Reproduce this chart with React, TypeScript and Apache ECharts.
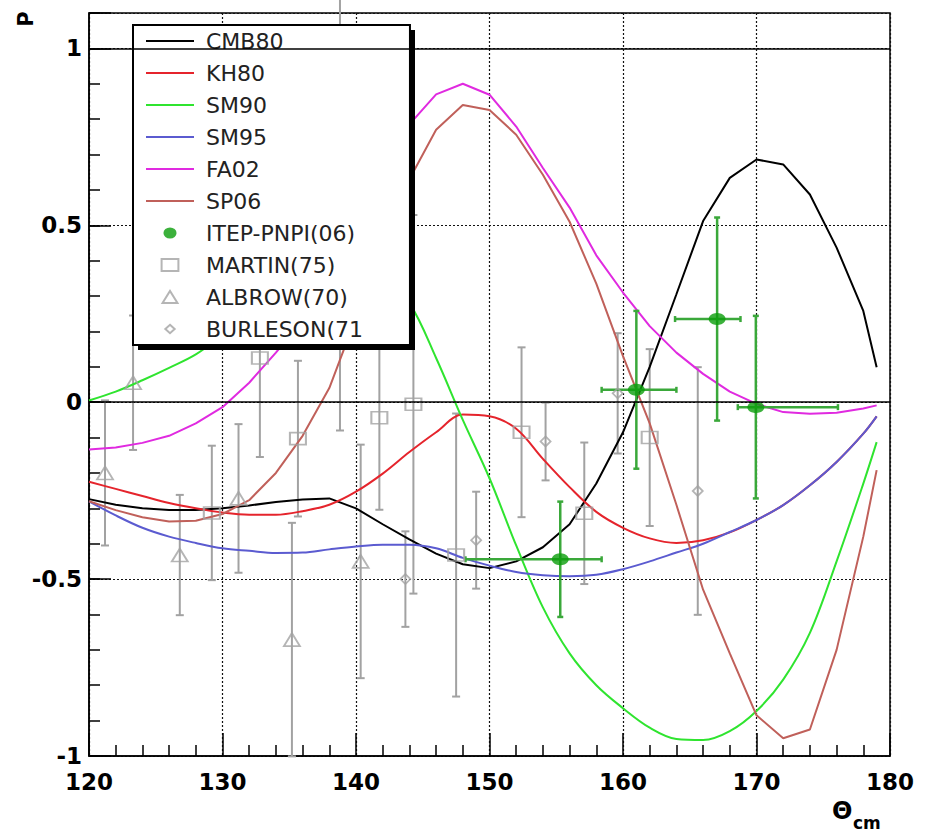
import React, { useEffect, useRef } from 'react';
import * as echarts from 'echarts';

// ---- data ----
const thetaGrid = [120, 122, 124, 126, 128, 130, 132, 134, 136, 138, 140, 142, 144, 146, 148, 150, 152, 154, 156, 158, 160, 162, 164, 166, 168, 170, 172, 174, 176, 178, 179];
const cmb80 = [-0.274, -0.29, -0.30, -0.305, -0.305, -0.30, -0.292, -0.282, -0.275, -0.272, -0.30, -0.345, -0.388, -0.428, -0.458, -0.469, -0.45, -0.41, -0.345, -0.23, -0.085, 0.10, 0.305, 0.512, 0.634, 0.686, 0.672, 0.587, 0.437, 0.258, 0.099];
const kh80 = [-0.225, -0.245, -0.265, -0.285, -0.30, -0.312, -0.318, -0.318, -0.308, -0.29, -0.253, -0.202, -0.141, -0.085, -0.035, -0.040, -0.075, -0.16, -0.24, -0.31, -0.355, -0.385, -0.398, -0.39, -0.368, -0.333, -0.291, -0.235, -0.169, -0.089, -0.04];
const sm90 = [0.005, 0.03, 0.062, 0.097, 0.135, 0.19, 0.25, 0.31, 0.36, 0.39, 0.39, 0.355, 0.28, 0.125, -0.05, -0.215, -0.405, -0.58, -0.71, -0.80, -0.865, -0.92, -0.952, -0.955, -0.93, -0.873, -0.784, -0.652, -0.45, -0.23, -0.113];
const sm95 = [-0.28, -0.32, -0.355, -0.38, -0.398, -0.413, -0.42, -0.426, -0.425, -0.416, -0.408, -0.403, -0.403, -0.413, -0.44, -0.462, -0.48, -0.489, -0.492, -0.488, -0.472, -0.45, -0.425, -0.40, -0.367, -0.333, -0.291, -0.235, -0.169, -0.089, -0.04];
const fa02 = [-0.134, -0.128, -0.115, -0.095, -0.06, -0.014, 0.055, 0.14, 0.23, 0.35, 0.49, 0.64, 0.785, 0.87, 0.9, 0.869, 0.779, 0.662, 0.55, 0.415, 0.31, 0.215, 0.14, 0.08, 0.03, -0.005, -0.028, -0.033, -0.03, -0.018, -0.009];
const sp06 = [-0.28, -0.305, -0.325, -0.337, -0.335, -0.316, -0.277, -0.20, -0.095, 0.04, 0.24, 0.45, 0.63, 0.77, 0.84, 0.826, 0.756, 0.643, 0.51, 0.335, 0.13, -0.06, -0.29, -0.53, -0.71, -0.885, -0.95, -0.925, -0.70, -0.38, -0.192];

const itepTheta = [155.3, 161.0, 167.05, 169.95];
const itepP = [-0.444, 0.035, 0.235, -0.014];
const itepPErr = [0.163, 0.223, 0.287, 0.258];
const itepThetaLo = [148.2, 158.4, 163.9, 168.6];
const itepThetaHi = [158.4, 164.0, 168.8, 176.1];

const martinTheta = [129.2, 132.8, 135.65, 141.75, 144.3, 147.5, 152.4, 157.1, 162.0];
const martinP = [-0.313, 0.125, -0.103, -0.044, -0.006, -0.432, -0.085, -0.314, -0.10];
const martinErr = [0.19, 0.28, 0.22, 0.26, 0.535, 0.40, 0.24, 0.20, 0.25];

const albrowTheta = [121.2, 123.3, 126.8, 131.2, 135.2, 138.8, 140.35];
const albrowP = [-0.20, 0.055, -0.432, -0.272, -0.671, 0.535, -0.45];
const albrowErr = [0.205, 0.19, 0.17, 0.21, 0.33, 0.615, 0.33];

const burlesonTheta = [143.7, 149.0, 154.2, 159.6, 165.6];
const burlesonP = [-0.50, -0.39, -0.111, 0.025, -0.251];
const burlesonErr = [0.135, 0.137, 0.11, 0.17, 0.35];

const curveNames = ['CMB80', 'KH80', 'SM90', 'SM95', 'FA02', 'SP06'];
const pointNames = ['ITEP-PNPI(06)', 'MARTIN(75)', 'ALBROW(70)', 'BURLESON(71'];

const FONT = 'DejaVu Sans';
const GRAY = '#a2a2a2';
const ITEP_GREEN = '#0b9e0b';
const ITEP_BAR = '#3aa83a';

// legend icon shapes (a fixed 20x15 frame keeps their size inside the legend slot)
const ICON_SQUARE = 'path://M0,0M20,15M1,1H19V14H1Z';
const ICON_TRIANGLE = 'path://M0,0M20,15M2,14L10,1L18,14Z';
const ICON_DIAMOND = 'path://M0,0M20,15M10,3L15,7.5L10,12L5,7.5Z';
const ICON_DOT = 'path://M0,0M20,15M3,7.5A7,6,0,1,0,17,7.5A7,6,0,1,0,3,7.5Z';

function curve(name: string, ys: number[], color: string, smooth: boolean, extra: any = {}) {
  return {
    type: 'line',
    name,
    data: thetaGrid.map((x, i) => [x, ys[i]]),
    symbol: 'none',
    showSymbol: false,
    smooth: smooth ? 0.35 : false,
    lineStyle: { color, width: 2 },
    itemStyle: { color },
    z: 2,
    ...extra,
  };
}

function grayBarSeries(xs: number[], ys: number[], es: number[]) {
  return {
    type: 'custom',
    coordinateSystem: 'cartesian2d',
    silent: true,
    z: 1,
    data: xs.map((x, i) => [x, ys[i], es[i]]),
    encode: { x: 0, y: 1 },
    renderItem: (_p: any, api: any) => {
      const x = api.value(0), y = api.value(1), e = api.value(2);
      const a = api.coord([x, y + e]);
      const b = api.coord([x, y - e]);
      const st = { stroke: GRAY, lineWidth: 2 };
      return {
        type: 'group',
        children: [
          { type: 'line', shape: { x1: a[0], y1: a[1], x2: b[0], y2: b[1] }, style: st },
          { type: 'line', shape: { x1: a[0] - 4, y1: a[1], x2: a[0] + 4, y2: a[1] }, style: st },
          { type: 'line', shape: { x1: b[0] - 4, y1: b[1], x2: b[0] + 4, y2: b[1] }, style: st },
        ],
      };
    },
  };
}

function openMarkers(name: string, xs: number[], ys: number[], symbol: string, size: any) {
  return {
    type: 'scatter',
    name,
    data: xs.map((x, i) => [x, ys[i]]),
    symbol,
    symbolSize: size,
    itemStyle: { color: 'rgba(255,255,255,0)', borderColor: GRAY, borderWidth: 1.8 },
    z: 3,
  };
}

export default function App() {
  const ref = useRef<HTMLDivElement>(null);
  useEffect(() => {
    const chart = echarts.init(ref.current!, null, { renderer: 'svg', width: 930, height: 833 });
    const axisLineStyle = { color: '#000', width: 1.5 };
    const pointIcons = [ICON_DOT, ICON_SQUARE, ICON_TRIANGLE, ICON_DIAMOND];
    const legendData = [
      ...curveNames.map((n) => ({ name: n, itemStyle: { opacity: 0 } })),
      ...pointNames.map((n, i) => ({ name: n, icon: pointIcons[i] })),
    ];
    const option: any = {
      animation: false,
      backgroundColor: '#fff',
      grid: {
        left: 89, top: 13, width: 801, height: 743,
        containLabel: false, outerBoundsMode: 'none',
        show: true, borderColor: '#000', borderWidth: 1.5, backgroundColor: 'transparent',
      },
      xAxis: {
        type: 'value', min: 120, max: 180, interval: 10,
        axisLine: { show: true, onZero: false, lineStyle: axisLineStyle },
        axisTick: { show: true, inside: true, length: 23, lineStyle: axisLineStyle },
        minorTick: { show: true, splitNumber: 5, length: 11, lineStyle: axisLineStyle },
        axisLabel: { show: true, margin: 14, fontFamily: FONT, fontWeight: 'bold', fontSize: 23, color: '#000' },
        splitLine: { show: true, lineStyle: { color: '#111', width: 1.2, type: [2, 2] } },
        minorSplitLine: { show: false },
      },
      yAxis: [
        {
          type: 'value', min: -1, max: 1.1, interval: 0.5,
          axisLine: { show: true, onZero: false, lineStyle: axisLineStyle },
          axisTick: { show: true, inside: true, length: 22, lineStyle: axisLineStyle },
          axisLabel: {
            show: true, margin: 7, fontFamily: FONT, fontWeight: 'bold', fontSize: 23, color: '#000',
            formatter: (v: number) => (v > 1.05 ? '' : String(v)),
          },
          splitLine: { show: true, lineStyle: { color: '#111', width: 1.2, type: [2, 2] } },
        },
        {
          type: 'value', min: -1, max: 1.1, interval: 0.1, position: 'left',
          axisLine: { show: false },
          axisTick: { show: true, inside: true, length: 11, lineStyle: axisLineStyle },
          axisLabel: { show: false },
          splitLine: { show: false },
        },
      ],
      legend: {
        orient: 'vertical', left: 133, top: 25, z: 5,
        backgroundColor: '#fff', borderColor: '#000', borderWidth: 2, borderRadius: 0,
        padding: [5, 47, 5, 12],
        itemWidth: 48, itemHeight: 14, itemGap: 10,
        symbolKeepAspect: true,
        textStyle: { fontFamily: FONT, fontSize: 22, color: '#222', lineHeight: 22, padding: [0, 0, 0, 7] },
        data: legendData,
        selectedMode: false,
      },
      graphic: [
        { type: 'rect', z: 4, silent: true, shape: { x: 138, y: 30, width: 277, height: 320 }, style: { fill: '#000' } },
        {
          type: 'text', x: 26, y: 19, rotation: Math.PI / 2,
          style: { text: 'P', fontFamily: FONT, fontWeight: 'bold', fontSize: 21, fill: '#000', textAlign: 'center', textVerticalAlign: 'middle', align: 'center', verticalAlign: 'middle' },
        },
        {
          type: 'text', x: 832, y: 811,
          style: { text: 'Θ', fontFamily: FONT, fontWeight: 'bold', fontSize: 24, fill: '#000', textAlign: 'left', textVerticalAlign: 'middle', align: 'left', verticalAlign: 'middle' },
        },
        {
          type: 'text', x: 853, y: 823,
          style: { text: 'cm', fontFamily: FONT, fontWeight: 'bold', fontSize: 17, fill: '#000', textAlign: 'left', textVerticalAlign: 'middle', align: 'left', verticalAlign: 'middle' },
        },
      ],
      series: [
        grayBarSeries(martinTheta, martinP, martinErr),
        grayBarSeries(albrowTheta, albrowP, albrowErr),
        grayBarSeries(burlesonTheta, burlesonP, burlesonErr),
        curve('CMB80', cmb80, '#000000', false, {
          markLine: {
            silent: true, symbol: 'none', label: { show: false },
            lineStyle: { color: '#000', width: 1.5, type: 'solid' },
            data: [{ yAxis: 0 }, { yAxis: 1 }],
          },
        }),
        curve('KH80', kh80, '#e5242c', true),
        curve('SM90', sm90, '#2fe42f', true),
        curve('SM95', sm95, '#5b5bd0', true),
        curve('FA02', fa02, '#e02ae0', false),
        curve('SP06', sp06, '#c0605a', false),
        openMarkers('MARTIN(75)', martinTheta, martinP, 'rect', [16, 12]),
        openMarkers('ALBROW(70)', albrowTheta, albrowP, 'triangle', [16, 13]),
        openMarkers('BURLESON(71', burlesonTheta, burlesonP, 'diamond', [10, 10]),
        {
          type: 'custom',
          coordinateSystem: 'cartesian2d',
          silent: true,
          z: 3,
          data: itepTheta.map((x, i) => [x, itepP[i], itepPErr[i], itepThetaLo[i], itepThetaHi[i]]),
          encode: { x: 0, y: 1 },
          renderItem: (_p: any, api: any) => {
            const x = api.value(0), y = api.value(1), e = api.value(2), xl = api.value(3), xh = api.value(4);
            const t = api.coord([x, y + e]);
            const b = api.coord([x, y - e]);
            const l = api.coord([xl, y]);
            const r = api.coord([xh, y]);
            const st = { stroke: ITEP_BAR, lineWidth: 2.5 };
            return {
              type: 'group',
              children: [
                { type: 'line', shape: { x1: t[0], y1: t[1], x2: b[0], y2: b[1] }, style: st },
                { type: 'line', shape: { x1: l[0], y1: l[1], x2: r[0], y2: r[1] }, style: st },
                { type: 'line', shape: { x1: t[0] - 3, y1: t[1], x2: t[0] + 3, y2: t[1] }, style: st },
                { type: 'line', shape: { x1: b[0] - 3, y1: b[1], x2: b[0] + 3, y2: b[1] }, style: st },
                { type: 'line', shape: { x1: l[0], y1: l[1] - 3, x2: l[0], y2: l[1] + 3 }, style: st },
                { type: 'line', shape: { x1: r[0], y1: r[1] - 3, x2: r[0], y2: r[1] + 3 }, style: st },
              ],
            };
          },
        },
        {
          type: 'scatter',
          name: 'ITEP-PNPI(06)',
          data: itepTheta.map((x, i) => [x, itepP[i]]),
          symbol: 'circle',
          symbolSize: [17, 12],
          itemStyle: { color: ITEP_GREEN },
          z: 3,
        },
      ],
    };
    chart.setOption(option);
    return () => chart.dispose();
  }, []);
  return <div ref={ref} style={{ position: 'absolute', left: 0, top: 0, width: 930, height: 833, background: '#fff' }} />;
}
